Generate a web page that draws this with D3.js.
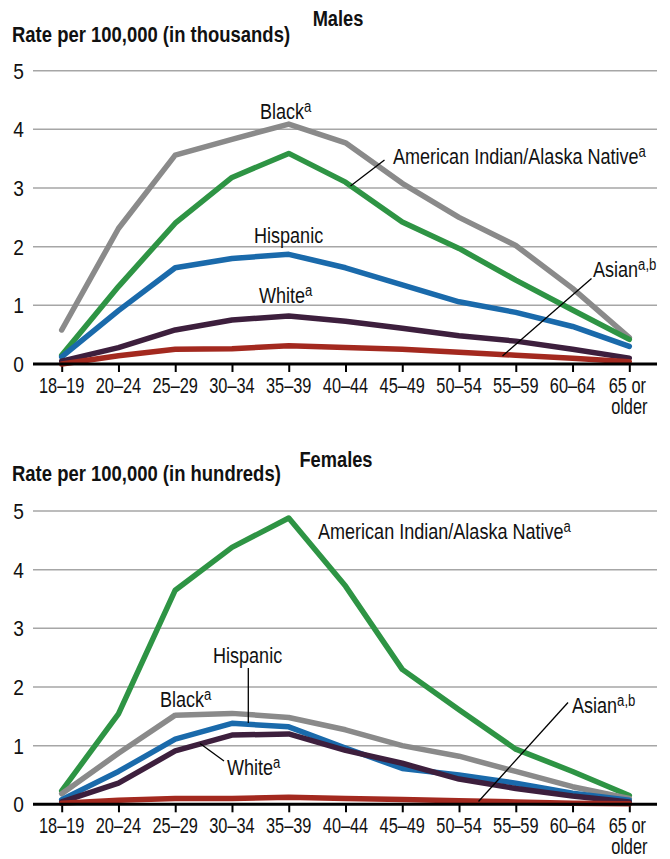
<!DOCTYPE html>
<html>
<head>
<meta charset="utf-8">
<script src="https://cdn.jsdelivr.net/npm/d3@7"></script>
<style>
  html, body { margin: 0; padding: 0; background: #fff; }
  svg text { font-family: "Liberation Sans", Arial, sans-serif; fill: #111; }
</style>
</head>
<body>
<svg id="chart" width="670" height="859"></svg>
<script>
const categories = ["18–19","20–24","25–29","30–34","35–39","40–44","45–49","50–54","55–59","60–64","65 or older"];
const yTicks = [0,1,2,3,4,5];

// Males, rate per 100,000 in thousands
const maleBlack    = [0.58, 2.31, 3.56, 3.83, 4.09, 3.77, 3.08, 2.50, 2.02, 1.29, 0.45];
const maleAIAN     = [0.15, 1.32, 2.40, 3.18, 3.59, 3.10, 2.42, 1.97, 1.43, 0.92, 0.42];
const maleHispanic = [0.12, 0.91, 1.64, 1.80, 1.87, 1.64, 1.35, 1.06, 0.88, 0.64, 0.30];
const maleWhite    = [0.05, 0.28, 0.58, 0.75, 0.82, 0.73, 0.61, 0.48, 0.39, 0.25, 0.10];
const maleAsian    = [0.00, 0.14, 0.25, 0.26, 0.31, 0.28, 0.25, 0.20, 0.15, 0.10, 0.04];

// Females, rate per 100,000 in hundreds
const femaleAIAN     = [0.23, 1.54, 3.65, 4.38, 4.88, 3.72, 2.30, 1.61, 0.94, 0.56, 0.15];
const femaleBlack    = [0.18, 0.87, 1.52, 1.55, 1.48, 1.27, 1.00, 0.82, 0.56, 0.30, 0.10];
const femaleHispanic = [0.08, 0.56, 1.11, 1.38, 1.32, 0.96, 0.61, 0.50, 0.36, 0.19, 0.07];
const femaleWhite    = [0.04, 0.36, 0.91, 1.18, 1.20, 0.92, 0.70, 0.43, 0.27, 0.14, 0.04];
const femaleAsian    = [0.02, 0.07, 0.10, 0.10, 0.12, 0.10, 0.08, 0.06, 0.04, 0.02, 0.01];

const colors = { black: "#8a8a8a", aian: "#2e9444", hispanic: "#1a6aab", white: "#3d1f3d", asian: "#a3291f" };

const svg = d3.select("#chart");

// condensed text helper (horizontal squeeze to mimic a condensed face)
function ctext(g, x, y, opts) {
  const t = g.append("text")
    .attr("transform", `translate(${x},${y}) scale(${opts.sx || 0.85},1)`)
    .attr("font-size", opts.size || 21.5)
    .attr("text-anchor", opts.anchor || "start");
  if (opts.bold) t.attr("font-weight", "bold");
  return t;
}

function panel(cfg) {
  const g = svg.append("g");
  const x = d3.scalePoint().domain(categories).range([61.7, 629.3]);
  const y = d3.scaleLinear().domain([0, 5]).range([cfg.y0, cfg.y0 - 293.3]);

  // titles
  ctext(g, 12, cfg.titleY, { bold: true, size: 22, sx: 0.84 }).text(cfg.axisTitle);
  ctext(g, cfg.panelTitleX, cfg.panelTitleY, { bold: true, size: 22, sx: 0.83, anchor: "middle" }).text(cfg.panelTitle);

  // grid
  g.append("g").selectAll("line").data(yTicks.filter(d => d > 0)).join("line")
    .attr("x1", 33).attr("x2", 657).attr("y1", d => y(d)).attr("y2", d => y(d))
    .attr("stroke", "#a6a6a6").attr("stroke-width", 1.5);

  // y labels
  yTicks.forEach(d => {
    ctext(g, 18.5, y(d) + 8, { size: 22.5, sx: 0.85, anchor: "middle" }).text(d);
  });

  // x axis ticks
  const xa = g.append("g").attr("transform", `translate(0,${cfg.y0})`)
    .call(d3.axisBottom(x).tickSize(8).tickFormat(""));
  xa.select(".domain").remove();
  xa.selectAll("line").attr("stroke", "#000").attr("stroke-width", 2);

  categories.forEach(d => {
    if (d === "65 or older") {
      ctext(g, x(d) - 2, cfg.y0 + 28.5, { size: 21.5, sx: 0.76, anchor: "middle" }).text("65 or");
      ctext(g, x(d), cfg.y0 + 49.5, { size: 21.5, sx: 0.76, anchor: "middle" }).text("older");
    } else {
      ctext(g, x(d), cfg.y0 + 28.5, { size: 21.5, sx: 0.76, anchor: "middle" }).text(d);
    }
  });

  // lines
  const line = d3.line().x((d, i) => x(categories[i])).y(d => y(d)).curve(d3.curveLinear);
  cfg.series.forEach(s => {
    g.append("path").datum(s.values).attr("d", line).attr("fill", "none")
      .attr("stroke", s.color).attr("stroke-width", 5.5).attr("stroke-linejoin", "round").attr("stroke-linecap", "round");
  });

  // axis baseline
  g.append("line").attr("x1", 33).attr("x2", 657).attr("y1", cfg.y0).attr("y2", cfg.y0)
    .attr("stroke", "#000").attr("stroke-width", 3);

  // labels
  cfg.labels.forEach(l => {
    const t = ctext(g, l.x, l.y, { size: 22, sx: 0.82 });
    t.append("tspan").text(l.text);
    if (l.sup) t.append("tspan").attr("dy", -7.5).attr("font-size", 16).text(l.sup);
  });
  cfg.leaders.forEach(p => {
    g.append("line").attr("x1", p[0]).attr("y1", p[1]).attr("x2", p[2]).attr("y2", p[3])
      .attr("stroke", "#000").attr("stroke-width", 1.3);
  });
}

panel({
  y0: 364, titleY: 42, panelTitleY: 26, panelTitleX: 338,
  axisTitle: "Rate per 100,000 (in thousands)", panelTitle: "Males",
  series: [
    { values: maleBlack, color: colors.black },
    { values: maleAIAN, color: colors.aian },
    { values: maleHispanic, color: colors.hispanic },
    { values: maleWhite, color: colors.white },
    { values: maleAsian, color: colors.asian }
  ],
  labels: [
    { x: 260, y: 119, text: "Black", sup: "a" },
    { x: 393, y: 164, text: "American Indian/Alaska Native", sup: "a" },
    { x: 254, y: 243, text: "Hispanic" },
    { x: 259, y: 303, text: "White", sup: "a" },
    { x: 593, y: 277, text: "Asian", sup: "a,b" }
  ],
  leaders: [
    [384.5, 160, 350.5, 186],
    [591.5, 278.5, 502.5, 356]
  ]
});

panel({
  y0: 804.3, titleY: 481, panelTitleY: 467, panelTitleX: 336,
  axisTitle: "Rate per 100,000 (in hundreds)", panelTitle: "Females",
  series: [
    { values: femaleAIAN, color: colors.aian },
    { values: femaleBlack, color: colors.black },
    { values: femaleHispanic, color: colors.hispanic },
    { values: femaleWhite, color: colors.white },
    { values: femaleAsian, color: colors.asian }
  ],
  labels: [
    { x: 318, y: 539, text: "American Indian/Alaska Native", sup: "a" },
    { x: 213, y: 663, text: "Hispanic" },
    { x: 160, y: 707, text: "Black", sup: "a" },
    { x: 227, y: 775, text: "White", sup: "a" },
    { x: 572, y: 713, text: "Asian", sup: "a,b" }
  ],
  leaders: [
    [248.3, 668, 248.3, 723],
    [224, 761, 200, 743.5],
    [568, 702.5, 478.5, 801.5]
  ]
});
</script>
</body>
</html>
